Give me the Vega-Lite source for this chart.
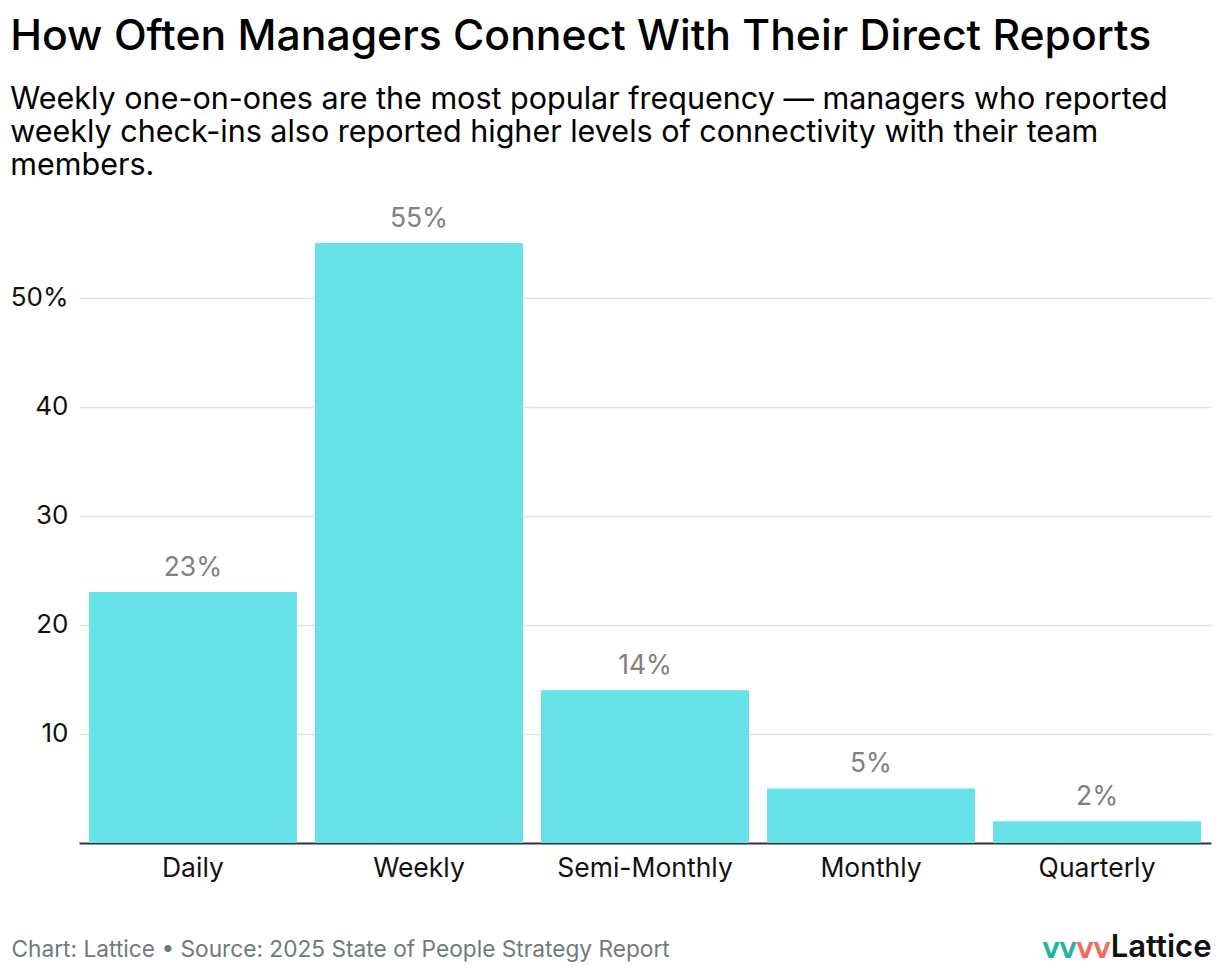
{
  "$schema": "https://vega.github.io/schema/vega-lite/v6.json",
  "width": 1132,
  "height": 600,
  "autosize": {"type": "pad"},
  "padding": {"left": 10, "right": 10, "top": 15, "bottom": 5},
  "background": "white",
  "title": {
    "text": "How Often Managers Connect With Their Direct Reports",
    "subtitle": [
      "Weekly one-on-ones are the most popular frequency — managers who reported",
      "weekly check-ins also reported higher levels of connectivity with their team",
      "members."
    ],
    "anchor": "start",
    "frame": "bounds",
    "font": "Inter",
    "fontSize": 42.7,
    "fontWeight": 500,
    "color": "#000000",
    "subtitleFont": "Inter",
    "subtitleFontSize": 30.5,
    "subtitleColor": "#000000",
    "subtitleLineHeight": 33,
    "subtitlePadding": 26,
    "offset": 25
  },
  "data": {
    "values": [
      {"frequency": "Daily", "share": 23},
      {"frequency": "Weekly", "share": 55},
      {"frequency": "Semi-Monthly", "share": 14},
      {"frequency": "Monthly", "share": 5},
      {"frequency": "Quarterly", "share": 2}
    ]
  },
  "layer": [
    {
      "mark": {"type": "bar", "color": "#67E2E9"},
      "encoding": {
        "x": {
          "field": "frequency",
          "type": "nominal",
          "sort": null,
          "scale": {"paddingInner": 0.08, "paddingOuter": 0.044},
          "axis": {
            "labelAngle": 0,
            "labelFont": "Inter",
            "labelFontSize": 26.5,
            "labelColor": "#111111",
            "labelPadding": 12,
            "ticks": false,
            "domain": true,
            "domainColor": "#333333",
            "domainWidth": 2,
            "grid": false,
            "title": "Chart: Lattice • Source: 2025 State of People Strategy Report",
            "titleFont": "Inter",
            "titleFontSize": 22.7,
            "titleFontWeight": "normal",
            "titleColor": "#6E7B7B",
            "titleX": -68,
            "titleY": 113,
            "titleAlign": "left",
            "titleBaseline": "alphabetic"
          }
        },
        "y": {
          "field": "share",
          "type": "quantitative",
          "scale": {"domain": [0, 55], "nice": false},
          "axis": {
            "values": [10, 20, 30, 40, 50],
            "labelExpr": "datum.value == 50 ? '50%' : datum.label",
            "labelFont": "Inter",
            "labelFontSize": 26,
            "labelColor": "#111111",
            "labelPadding": 11,
            "ticks": false,
            "domain": false,
            "grid": true,
            "gridColor": "#E3E3E3",
            "gridWidth": 1.5,
            "title": "VV",
            "titleFont": "DejaVu Sans",
            "titleFontSize": 22,
            "titleFontWeight": "bold",
            "titleColor": "#1FB79B",
            "titleAngle": 0,
            "titleX": 963,
            "titleY": 714,
            "titleAlign": "left",
            "titleBaseline": "alphabetic"
          }
        }
      }
    },
    {
      "mark": {"type": "text", "baseline": "alphabetic", "dy": -16, "font": "Inter", "fontSize": 26.4, "color": "#808080"},
      "transform": [{"calculate": "datum.share + '%'", "as": "label"}],
      "encoding": {
        "x": {"field": "frequency", "type": "nominal", "sort": null, "axis": null},
        "y": {
          "field": "share",
          "type": "quantitative",
          "axis": {
            "orient": "right",
            "labels": false,
            "ticks": false,
            "domain": false,
            "grid": false,
            "minExtent": 0,
            "title": "Lattice",
            "titleFont": "Inter",
            "titleFontSize": 31,
            "titleFontWeight": 600,
            "titleColor": "#111111",
            "titleAngle": 0,
            "titleX": 0,
            "titleY": 713,
            "titleAlign": "right",
            "titleBaseline": "alphabetic"
          }
        },
        "text": {"field": "label", "type": "nominal"}
      }
    },
    {
      "mark": {"type": "point", "opacity": 0},
      "encoding": {
        "x": {
          "field": "frequency",
          "type": "nominal",
          "sort": null,
          "axis": {
            "orient": "top",
            "labels": false,
            "ticks": false,
            "domain": false,
            "grid": false,
            "minExtent": 0,
            "title": "VV",
            "titleFont": "DejaVu Sans",
            "titleFontSize": 22,
            "titleFontWeight": "bold",
            "titleColor": "#F26B5B",
            "titleX": 997,
            "titleY": 714,
            "titleAlign": "left",
            "titleBaseline": "alphabetic"
          }
        },
        "y": {"field": "share", "type": "quantitative", "axis": null}
      }
    }
  ],
  "resolve": {"axis": {"x": "independent", "y": "independent"}},
  "config": {"view": {"stroke": null}, "font": "Inter"}
}
